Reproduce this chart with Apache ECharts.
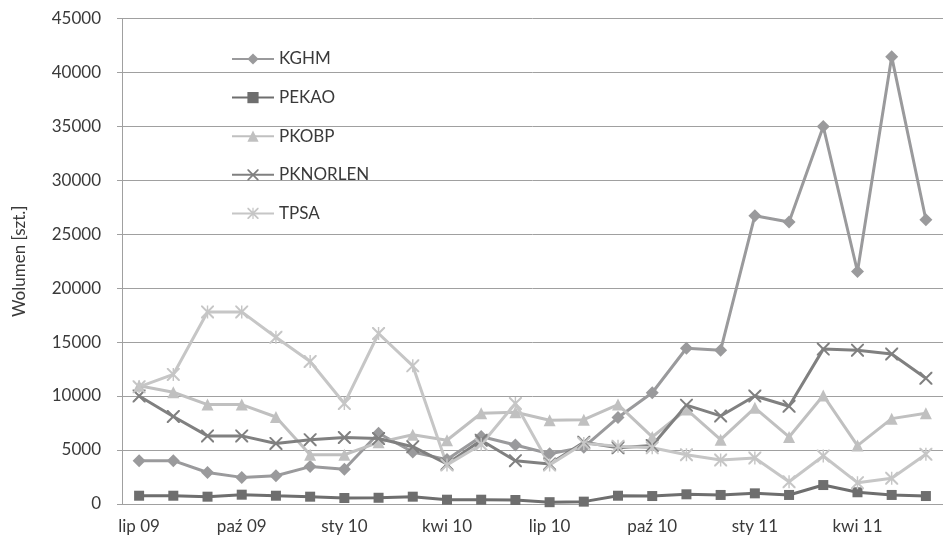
<!DOCTYPE html>
<html>
<head>
<meta charset="utf-8">
<script src="https://cdn.jsdelivr.net/npm/echarts@6/dist/echarts.min.js"></script>
<style>
  html, body { margin: 0; padding: 0; background: #fff; }
  #main { width: 943px; height: 548px; }
</style>
</head>
<body>
<div id="main"></div>
<script>
// miesiące lip 09 - cze 11
const months = ['lip 09', 'sie 09', 'wrz 09', 'paź 09', 'lis 09', 'gru 09',
  'sty 10', 'lut 10', 'mar 10', 'kwi 10', 'maj 10', 'cze 10',
  'lip 10', 'sie 10', 'wrz 10', 'paź 10', 'lis 10', 'gru 10',
  'sty 11', 'lut 11', 'mar 11', 'kwi 11', 'maj 11', 'cze 11']

const kghm = [4000, 4000, 2900, 2450, 2600, 3450, 3200, 6550, 4800, 4100, 6250, 5450,
  4650, 5250, 8000, 10300, 14430, 14250, 26730, 26150, 35000, 21550, 41480, 26350]
const pekao = [750, 750, 660, 845, 750, 660, 540, 560, 660, 380, 380, 350,
  150, 200, 750, 720, 880, 820, 970, 820, 1740, 1070, 820, 720]
const pkobp = [10950, 10350, 9200, 9200, 8050, 4550, 4550, 5700, 6400, 5900, 8400, 8500,
  7750, 7800, 9200, 6200, 8750, 5950, 8900, 6200, 10050, 5400, 7900, 8400]
const pknorlen = [10000, 8100, 6300, 6300, 5600, 5950, 6150, 6050, 5300, 3700, 5900, 4000,
  3700, 5700, 5200, 5400, 9150, 8150, 10000, 9050, 14350, 14250, 13900, 11650]
const tpsa = [10850, 12000, 17800, 17800, 15450, 13200, 9300, 15800, 12800, 3600, 5500, 9300,
  3600, 5600, 5350, 5200, 4550, 4060, 4250, 2050, 4430, 1960, 2370, 4600]

const font = 'Lato, "Open Sans", sans-serif'
const txt = '#3a3a3a'
const grey = '#a0a0a0'
const crossPath = 'path://M0,0L1.1,0L10,8.9L10,10L8.9,10L0,1.1Z M10,0L10,1.1L1.1,10L0,10L0,8.9L8.9,0Z'
const starPath = crossPath + ' M4.45,0L5.55,0L5.55,10L4.45,10Z'

const line = (name, data, color, symbol, size) => ({
  name: name,
  type: 'line',
  data: data,
  symbol: symbol,
  symbolSize: size,
  showSymbol: true,
  lineStyle: { color: color, width: 3 },
  itemStyle: { color: color },
  emphasis: { disabled: true },
  animation: false
})

const chart = echarts.init(document.getElementById('main'))
chart.setOption({
  backgroundColor: '#fff',
  textStyle: { fontFamily: font },
  grid: { left: 122, right: -9, top: 18.7, bottom: 44.2 },
  legend: {
    orient: 'vertical',
    left: 226,
    top: 45,
    itemWidth: 42,
    itemHeight: 14,
    itemGap: 20.6,
    textStyle: { fontFamily: font, fontSize: 17, color: txt, lineHeight: 18 },
    data: ['KGHM', 'PEKAO', 'PKOBP', 'PKNORLEN', 'TPSA']
  },
  xAxis: {
    type: 'category',
    data: months,
    boundaryGap: true,
    axisLine: { lineStyle: { color: grey, width: 1 } },
    axisTick: { interval: 2, length: 6, lineStyle: { color: grey } },
    axisLabel: { interval: 2, margin: 14, fontSize: 17, color: txt, fontFamily: font },
    splitLine: { show: false }
  },
  yAxis: {
    type: 'value',
    min: 0,
    max: 45000,
    interval: 5000,
    name: 'Wolumen [szt.]',
    nameLocation: 'middle',
    nameGap: 94,
    nameTextStyle: { fontSize: 17, color: txt, fontFamily: font },
    axisLine: { show: true, lineStyle: { color: grey, width: 1 } },
    axisTick: { show: true, length: 5, lineStyle: { color: grey } },
    axisLabel: { margin: 21, fontSize: 17, color: txt, fontFamily: font, formatter: v => String(v) },
    splitLine: { lineStyle: { color: grey, width: 1 } }
  },
  series: [
    line('KGHM', kghm, '#9a9a9c', 'diamond', 13),
    line('PEKAO', pekao, '#6e6e6e', 'rect', 10),
    line('PKOBP', pkobp, '#c0c0c0', 'triangle', 12),
    line('PKNORLEN', pknorlen, '#808080', crossPath, 13),
    line('TPSA', tpsa, '#c6c6c6', starPath, 13)
  ]
})
</script>
</body>
</html>
